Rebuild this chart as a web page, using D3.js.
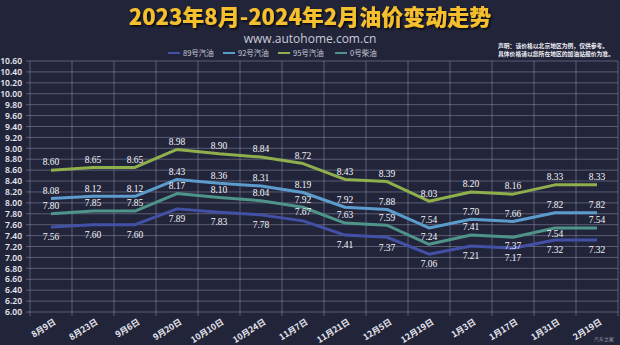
<!DOCTYPE html>
<html><head><meta charset="utf-8">
<script src="https://cdn.jsdelivr.net/npm/d3@7"></script>
<style>
html,body{margin:0;padding:0;background:#22253a;}
svg{display:block;}
</style></head>
<body>
<svg id="chart" width="620" height="345"></svg>
<script>
const categories = ["8月9日","8月23日","9月6日","9月20日","10月10日","10月24日","11月7日","11月21日","12月5日","12月19日","1月3日","1月17日","1月31日","2月19日"];
const seriesNames = ["89号汽油","92号汽油","95号汽油","0号柴油"];
const gas89 = [7.56,7.60,7.60,7.89,7.83,7.78,7.67,7.41,7.37,7.06,7.21,7.17,7.32,7.32];
const gas92 = [8.08,8.12,8.12,8.43,8.36,8.31,8.19,7.92,7.88,7.54,7.70,7.66,7.82,7.82];
const gas95 = [8.60,8.65,8.65,8.98,8.90,8.84,8.72,8.43,8.39,8.03,8.20,8.16,8.33,8.33];
const diesel0 = [7.80,7.85,7.85,8.17,8.10,8.04,7.92,7.63,7.59,7.24,7.41,7.37,7.54,7.54];
const yTicks = d3.range(6.0, 10.601, 0.2);
const titleText = "2023年8月-2024年2月油价变动走势";
const subtitleText = "www.autohome.com.cn";
const noteLines = ["声明：该价格以北京地区为例，仅供参考。","具体价格请以您所在地区的加油站报价为准。"];

const colors = ["#4251a6","#5c9ccc","#8fae4c","#4e9488"];
const seriesData = [gas89, gas92, gas95, diesel0];
// label placement: default dy per series (above / below), with a few overrides
const labelDy = [10, -8, -8, -8];
const labelOverride = {"0-6": -9, "3-11": 8, "3-12": 6};

const svg = d3.select("#chart");
const W = 620, H = 345;
const m = {left:30, right:2, top:61, bottom:33};

const defs = svg.append("defs");
const f = defs.append("filter").attr("id","sh").attr("x","-10%").attr("y","-30%").attr("width","120%").attr("height","160%");
f.append("feDropShadow").attr("dx",1.5).attr("dy",1.5).attr("stdDeviation",1).attr("flood-color","#000").attr("flood-opacity",0.8);

svg.append("rect").attr("width",W).attr("height",H).attr("fill","#22253a");

const x = d3.scaleBand().domain(categories).range([m.left, W - m.right]);
const y = d3.scaleLinear().domain([6.0, 10.6]).range([H - m.bottom, m.top]);

// horizontal grid
svg.append("g").selectAll("line").data(yTicks).join("line")
  .attr("x1", m.left - 4).attr("x2", W - m.right)
  .attr("y1", d => y(d)).attr("y2", d => y(d))
  .attr("stroke", "rgba(205,208,235,0.32)").attr("stroke-width", 1);
// vertical grid (band edges)
const edges = categories.map(c => x(c)).concat([W - m.right]);
svg.append("g").selectAll("line").data(edges).join("line")
  .attr("x1", d => d).attr("x2", d => d)
  .attr("y1", y(10.6)).attr("y2", y(6.0) + 4)
  .attr("stroke", "rgba(205,208,235,0.32)").attr("stroke-width", 1);

// y axis labels
const yAxis = d3.axisLeft(y).tickValues(yTicks).tickFormat(d3.format(".2f")).tickSize(0).tickPadding(8);
const ya = svg.append("g").attr("transform", `translate(${m.left},0)`).call(yAxis);
ya.select(".domain").remove();
ya.selectAll("text").attr("fill","#e6e7ef").attr("font-size","8.5px")
  .attr("font-family","'Noto Sans','Open Sans',sans-serif").attr("font-weight","600");

// x axis labels
const xAxis = d3.axisBottom(x).tickSize(0).tickPadding(0);
const xa = svg.append("g").attr("transform", `translate(0,${H - m.bottom})`).call(xAxis);
xa.select(".domain").remove();
xa.selectAll("text").attr("fill","#e6e7ef").attr("font-size","8.5px")
  .attr("font-family","'Noto Sans CJK SC',sans-serif").attr("font-weight","700")
  .attr("text-anchor","end").attr("dy","0.35em")
  .attr("transform","translate(4,9) rotate(-32)");

// lines
const line = d3.line().x((d,i) => x(categories[i]) + x.bandwidth()/2).y(d => y(d));
seriesData.forEach((s, k) => {
  svg.append("path").datum(s).attr("d", line).attr("fill","none")
    .attr("stroke", colors[k]).attr("stroke-width", 3).attr("stroke-linejoin","round");
});

// labels
seriesData.forEach((s, k) => {
  svg.append("g").selectAll("text").data(s).join("text")
    .attr("x", (d,i) => x(categories[i]) + x.bandwidth()/2)
    .attr("y", (d,i) => y(d) + (labelOverride[k+"-"+i] !== undefined ? labelOverride[k+"-"+i] : labelDy[k]))
    .attr("dy","0.35em").attr("text-anchor","middle")
    .attr("fill","#f4f4f8").attr("font-size","9.5px")
    .attr("font-family","'Liberation Serif','DejaVu Serif',serif")
    .text(d => d.toFixed(2));
});

// title
svg.append("text").attr("x", 310).attr("y", 25).attr("text-anchor","middle")
  .attr("fill","#f5bf2e").attr("font-size","22px").attr("font-weight","900")
  .attr("font-family","'Noto Sans CJK SC',sans-serif").attr("filter","url(#sh)")
  .text(titleText);
svg.append("text").attr("x", 310).attr("y", 43).attr("text-anchor","middle")
  .attr("fill","#c9cad6").attr("font-size","12px")
  .attr("font-family","'Open Sans','Noto Sans',sans-serif")
  .text(subtitleText);

// legend
const lg = svg.append("g");
const legX = [168, 223, 278, 335];
seriesNames.forEach((n, k) => {
  lg.append("line").attr("x1", legX[k]).attr("x2", legX[k] + 12).attr("y1", 53).attr("y2", 53)
    .attr("stroke", colors[k]).attr("stroke-width", 2);
  lg.append("text").attr("x", legX[k] + 15).attr("y", 53).attr("dy","0.35em")
    .attr("fill","#c9cad6").attr("font-size","7.5px")
    .attr("font-family","'Noto Sans CJK SC',sans-serif").text(n);
});

// note
noteLines.forEach((t, i) => {
  svg.append("text").attr("x", 498).attr("y", 46 + i*8).attr("dy","0.35em")
    .attr("fill","#eeeef4").attr("font-size","5.8px").attr("font-weight","700")
    .attr("font-family","'Noto Sans CJK SC',sans-serif").text(t);
});

// watermark
svg.append("text").attr("x", 614).attr("y", 341).attr("text-anchor","end")
  .attr("fill","#9a9cb0").attr("font-size","5px")
  .attr("font-family","'Noto Sans CJK SC',sans-serif").text("汽车之家");
</script>
</body></html>
